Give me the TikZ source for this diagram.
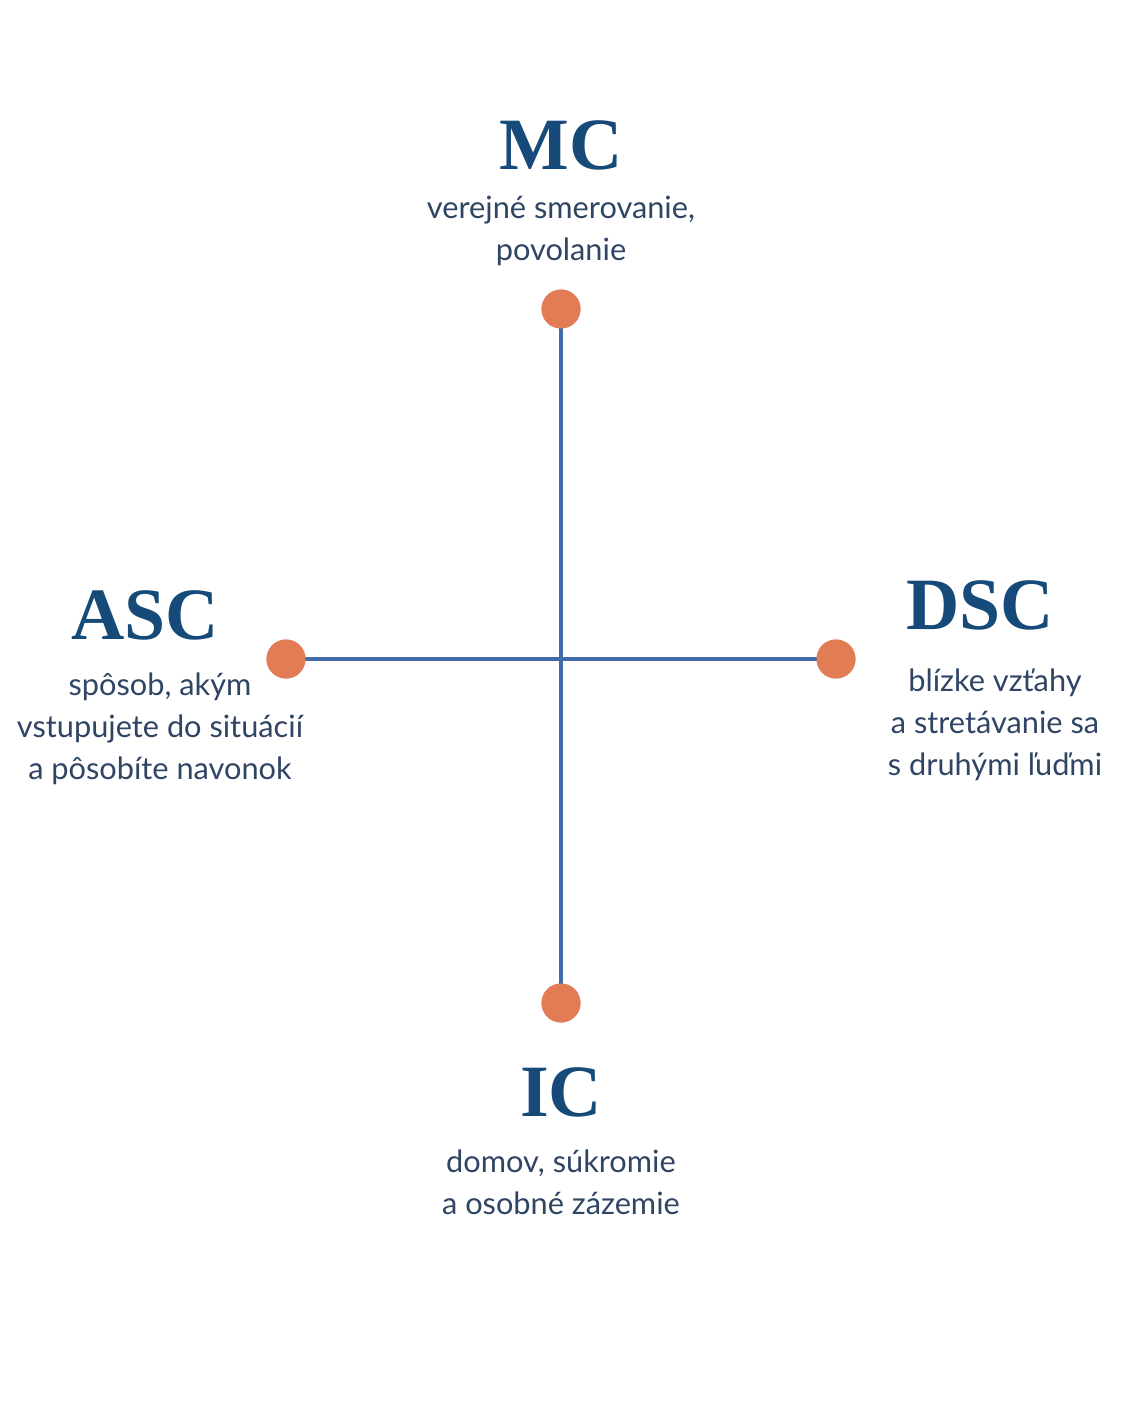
\documentclass[tikz,border=0pt]{standalone}
\usepackage{fontspec}
\setmainfont{Lato}
\newfontfamily\titlefont{Liberation Serif}
\usetikzlibrary{positioning}
\definecolor{axisblue}{RGB}{66,108,168}
\definecolor{titleblue}{RGB}{22,74,120}
\definecolor{textblue}{RGB}{48,68,100}
\definecolor{dotorange}{RGB}{226,124,84}
\tikzset{
    axis/.style={draw=axisblue, line width=2.8pt},
    dot/.style={circle, fill=dotorange, minimum size=0.78cm, inner sep=0pt},
    title/.style={text=titleblue, font=\titlefont\bfseries\fontsize{42}{46}\selectfont},
    desc/.style={text=textblue, align=center, font=\fontsize{17.5}{24}\selectfont}
}
\begin{document}
\begin{tikzpicture}[x=0.02cm, y=-0.02cm]
    \useasboundingbox (0,0) rectangle (1122,1402);

    % Axes
    \coordinate (centre) at (561,659);
    \node[dot] (mcdot) at (561,309) {};
    \node[dot] (icdot) at (561,1003) {};
    \node[dot] (ascdot) at (286,659) {};
    \node[dot] (dscdot) at (836,659) {};
    \begin{scope}[on background layer/.style={}]
    \draw[axis] (mcdot.center) -- (icdot.center);
    \draw[axis] (ascdot.center) -- (dscdot.center);
    \end{scope}
    \foreach \d in {mcdot, icdot, ascdot, dscdot}
        \node[dot] at (\d) {};

    % Labels
    \node[title] (mc) at (561,145) {MC};
    \node[desc] (mctext) at (561,231) {verejné smerovanie,\\povolanie};
    \node[title] (asc) at (145,615) {ASC};
    \node[desc] (asctext) at (160,729) {spôsob, akým\\vstupujete do situácií\\a pôsobíte navonok};
    \node[title] (dsc) at (980,605) {DSC};
    \node[desc] (dsctext) at (995,725) {blízke vzťahy\\a stretávanie sa\\s druhými ľuďmi};
    \node[title] (ic) at (561,1092) {IC};
    \node[desc] (ictext) at (561,1182) {domov, súkromie\\a osobné zázemie};
\end{tikzpicture}
\end{document}
